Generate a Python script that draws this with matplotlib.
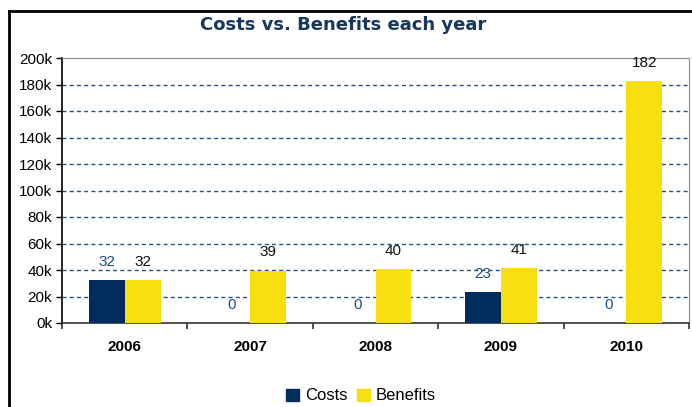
import numpy as np
import matplotlib.pyplot as plt
from matplotlib.lines import Line2D
from matplotlib.patches import Patch

# data, values in thousands
years = ['2006', '2007', '2008', '2009', '2010']
costs = [32.4, 0, 0, 23.6, 0]
benefits = [32.4, 39.6, 40.8, 41.6, 182.3]
y_ticks = [0, 20, 40, 60, 80, 100, 120, 140, 160, 180, 200]

navy = '#002D5E'
yellow = '#F7DF12'
grid_col = '#2B5283'

plt.rcParams['font.family'] = ['Liberation Sans', 'DejaVu Sans']

fig = plt.figure(figsize=(6.92, 4.07), dpi=100)
ax = fig.add_axes([62 / 692, 1 - 323 / 407, 627 / 692, 265 / 407])

x = np.arange(len(years))
w = 0.287
ax.bar(x - w / 2, costs, w, color=navy, zorder=3)
ax.bar(x + w / 2, benefits, w, color=yellow, zorder=3)

# value labels
for i in range(len(years)):
    ax.annotate(str(int(costs[i])), (x[i] - w / 2, costs[i]), xytext=(0, 13),
                textcoords='offset points', ha='center', va='center',
                fontsize=11, color='#1F4E85', zorder=4)
    ax.annotate(str(int(benefits[i])), (x[i] + w / 2, benefits[i]), xytext=(0, 13),
                textcoords='offset points', ha='center', va='center',
                fontsize=11, color='#111111', zorder=4)

ax.set_xlim(-0.5, len(years) - 0.5)
ax.set_ylim(0, 200)
ax.set_yticks(y_ticks)
ax.set_yticklabels([f'{v}k' for v in y_ticks])
ax.tick_params(axis='y', direction='out', length=4, width=1, labelsize=11, pad=3, color='black')

# category labels centred, ticks at boundaries
ax.set_xticks(x)
ax.set_xticklabels(years, fontweight='bold', fontsize=11)
ax.tick_params(axis='x', length=0, pad=12)
ax.set_xticks(np.arange(len(years) + 1) - 0.5, minor=True)
ax.tick_params(axis='x', which='minor', direction='out', length=4, width=1.2, color='#333333')

for v in y_ticks[1:-1]:
    ax.axhline(v, color=grid_col, lw=1, dashes=(2.9, 2.3), zorder=1)

ax.spines['left'].set_color('black')
ax.spines['left'].set_linewidth(1.2)
ax.spines['bottom'].set_color('#333333')
ax.spines['bottom'].set_linewidth(1.2)
ax.spines['top'].set_color('#8C8C8C')
ax.spines['right'].set_color('#8C8C8C')

fig.text(343 / 692, 1 - 25 / 407, 'Costs vs. Benefits each year', ha='center', va='center',
         fontsize=13, fontweight='bold', color='#17375E', family='DejaVu Sans')

handles = [Patch(color=navy, label='Costs'), Patch(color=yellow, label='Benefits')]
fig.legend(handles=handles, loc='center', bbox_to_anchor=(361 / 692, 1 - 396 / 407), ncol=2,
           frameon=False, fontsize=12, handlelength=0.75, handleheight=0.75,
           handletextpad=0.35, columnspacing=0.6)

# outer chart frame (top and left edges visible)
fig.add_artist(Line2D([9 / 692, 1], [1 - 11 / 407, 1 - 11 / 407], color='black', lw=2,
                      transform=fig.transFigure))
fig.add_artist(Line2D([9 / 692, 9 / 692], [0, 1 - 11 / 407], color='black', lw=2,
                      transform=fig.transFigure))

fig.savefig('out.png', dpi=100)
